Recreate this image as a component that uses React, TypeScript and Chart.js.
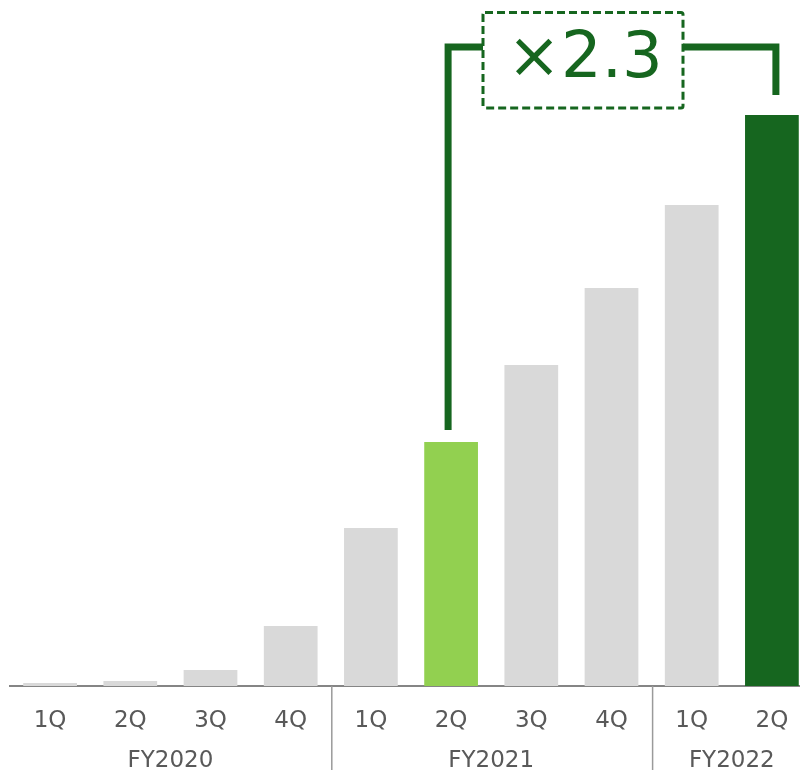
import React, { useEffect, useRef } from "react";
import { Chart, registerables } from "chart.js";

Chart.register(...registerables);

// Quarterly values (relative index)
const quarters = ["1Q", "2Q", "3Q", "4Q", "1Q", "2Q", "3Q", "4Q", "1Q", "2Q"];
const values = [3, 5, 16, 60, 158, 244, 321, 398, 481, 571];
const fiscalYears = ["FY2020", "FY2021", "FY2022"];
const yearOfQuarter = [0, 0, 0, 0, 1, 1, 1, 1, 2, 2];
const growthLabel = "×2.3";
const fromIndex = 5;
const toIndex = 9;

const GRAY = "#d9d9d9";
const LIGHT_GREEN = "#92d050";
const DARK_GREEN = "#16661f";
const TEXT = "#595959";
const FONT = "DejaVu Sans, Verdana, sans-serif";

const barColors = values.map((_, i) =>
  i === fromIndex ? LIGHT_GREEN : i === toIndex ? DARK_GREEN : GRAY
);

// Fiscal-year labels and separators under the quarter ticks
const yearGroups = {
  id: "yearGroups",
  afterDraw(chart: any) {
    const { ctx } = chart;
    const x = chart.scales.x;
    const bottom = chart.chartArea.bottom;
    ctx.save();
    // separators between fiscal years
    ctx.strokeStyle = "#9a9a9a";
    ctx.lineWidth = 1.5;
    for (let i = 1; i < quarters.length; i++) {
      if (yearOfQuarter[i] !== yearOfQuarter[i - 1]) {
        const sx = (x.getPixelForValue(i - 1) + x.getPixelForValue(i)) / 2 + 1;
        ctx.beginPath();
        ctx.moveTo(sx, bottom);
        ctx.lineTo(sx, bottom + 84);
        ctx.stroke();
      }
    }
    // year names centred under their quarters
    ctx.fillStyle = TEXT;
    ctx.font = `23px ${FONT}`;
    ctx.textAlign = "center";
    ctx.textBaseline = "middle";
    fiscalYears.forEach((fy, g) => {
      const idx = yearOfQuarter
        .map((y, i) => (y === g ? i : -1))
        .filter((i) => i >= 0);
      const cx =
        (x.getPixelForValue(idx[0]) + x.getPixelForValue(idx[idx.length - 1])) / 2;
      ctx.fillText(fy, cx, bottom + 75);
    });
    ctx.restore();
  },
};

// Bracket connecting the two highlighted quarters with the growth factor
const growthBracket = {
  id: "growthBracket",
  afterDraw(chart: any) {
    const { ctx } = chart;
    const meta = chart.getDatasetMeta(0);
    const a = meta.data[fromIndex];
    const b = meta.data[toIndex];
    const lineY = 47;
    const leftX = a.x - 3;
    const rightX = b.x + 4;
    const boxL = 483;
    const boxR = 683;
    const boxT = 12.5;
    const boxB = 108;

    ctx.save();
    ctx.strokeStyle = DARK_GREEN;
    ctx.lineWidth = 7;
    ctx.lineCap = "butt";
    ctx.lineJoin = "miter";
    ctx.beginPath();
    ctx.moveTo(leftX, a.y - 12);
    ctx.lineTo(leftX, lineY);
    ctx.lineTo(boxL, lineY);
    ctx.stroke();
    ctx.beginPath();
    ctx.moveTo(boxR, lineY);
    ctx.lineTo(rightX, lineY);
    ctx.lineTo(rightX, b.y - 20);
    ctx.stroke();

    // dashed frame around the factor
    ctx.lineWidth = 3;
    ctx.setLineDash([8, 4]);
    ctx.beginPath();
    ctx.roundRect(boxL, boxT, boxR - boxL, boxB - boxT, 2);
    ctx.stroke();
    ctx.setLineDash([]);

    ctx.fillStyle = DARK_GREEN;
    ctx.font = `64px ${FONT}`;
    ctx.textAlign = "center";
    ctx.textBaseline = "alphabetic";
    ctx.fillText(growthLabel, (boxL + boxR) / 2 + 2, 77);
    ctx.restore();
  },
};

export default function App() {
  const canvasRef = useRef<HTMLCanvasElement | null>(null);

  useEffect(() => {
    const canvas = canvasRef.current;
    if (!canvas) return;
    const chart = new Chart(canvas, {
      type: "bar",
      data: {
        labels: quarters,
        datasets: [
          {
            data: values,
            backgroundColor: barColors,
            borderWidth: 0,
            barPercentage: 0.67,
            categoryPercentage: 1,
          },
        ],
      },
      options: {
        responsive: false,
        animation: false,
        events: [],
        layout: { padding: { left: 10, right: 0, top: 0, bottom: 0 } },
        plugins: {
          legend: { display: false },
          tooltip: { enabled: false },
        },
        scales: {
          x: {
            z: 1,
            offset: true,
            grid: { display: false, drawTicks: false },
            border: { display: true, color: "#858585", width: 2 },
            ticks: {
              color: TEXT,
              font: { family: FONT, size: 23 },
              padding: 21,
              maxRotation: 0,
              autoSkip: false,
            },
            afterFit(scale: any) {
              scale.height = 87;
            },
          },
          y: {
            display: false,
            min: 0,
            max: 686,
          },
        },
      },
      plugins: [yearGroups, growthBracket],
    });
    return () => chart.destroy();
  }, []);

  return (
    <div
      style={{
        position: "fixed",
        left: 0,
        top: 0,
        width: 800,
        height: 773,
        overflow: "hidden",
        background: "#ffffff",
      }}
    >
      <canvas ref={canvasRef} width={812} height={773} />
    </div>
  );
}
